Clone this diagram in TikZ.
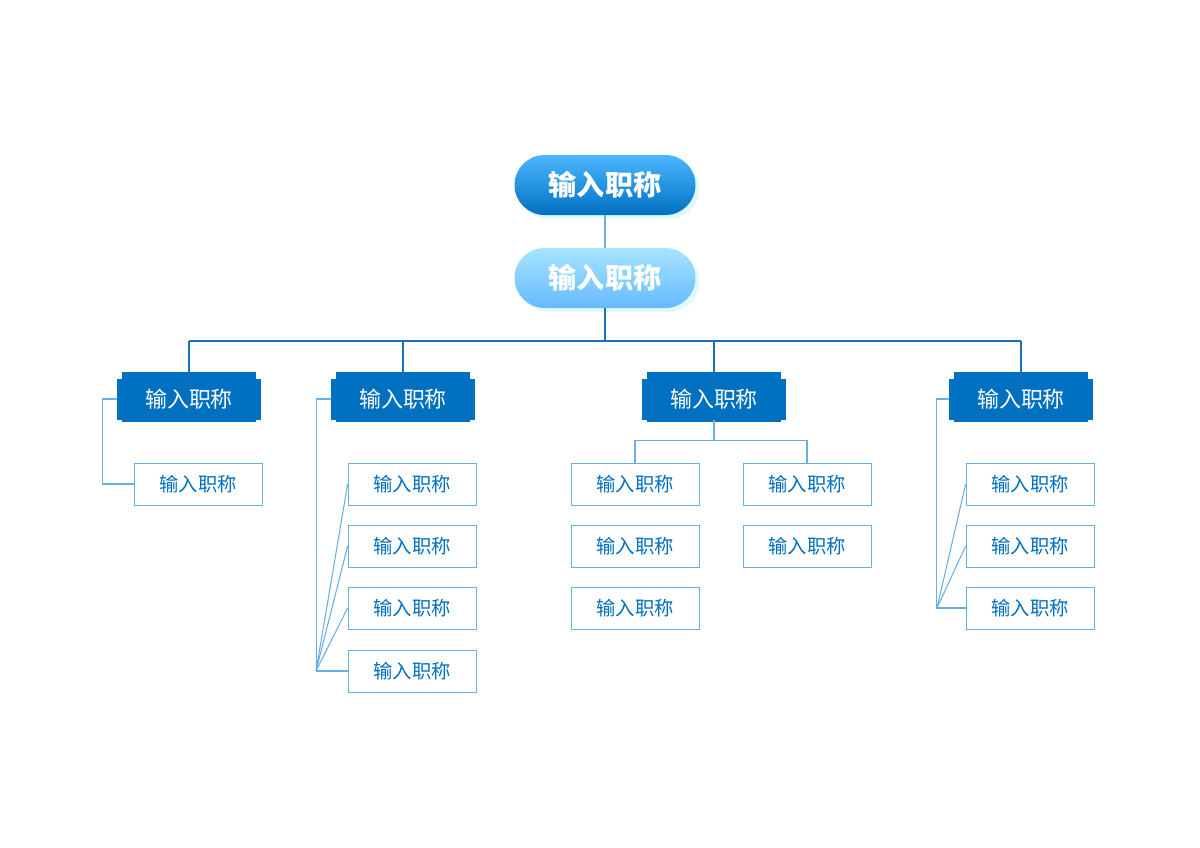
\documentclass[tikz,border=0pt]{standalone}
\usepackage{fontspec}
\setmainfont{Noto Sans CJK SC}
\usetikzlibrary{shadows}
\definecolor{deptblue}{HTML}{0070C0}
\definecolor{leafline}{HTML}{6AAEE6}
\definecolor{lineblue}{HTML}{1A72BD}
\tikzset{
  pill/.style={rounded corners=30*0.02cm,minimum width=181*0.02cm,minimum height=60*0.02cm,
    text=white,font=\fontsize{16}{18}\selectfont\bfseries,
    drop shadow={shadow xshift=4*0.02cm,shadow yshift=-4*0.02cm,fill=blue!20!cyan!20,opacity=0.6}},
  dept/.style={fill=deptblue,minimum width=144*0.02cm,minimum height=41*0.02cm,
    text=white,font=\fontsize{12.5}{14}\selectfont},
  leaf/.style={draw=leafline,fill=white,minimum width=128*0.02cm,minimum height=42*0.02cm,
    text=deptblue,font=\fontsize{11}{13}\selectfont},
  bus/.style={draw=lineblue,line width=0.8pt},
  thin/.style={draw=leafline,line width=0.6pt}
}
\begin{document}
\begin{tikzpicture}[x=0.02cm,y=-0.02cm]
\useasboundingbox (0,0) rectangle (1200,848);
% top
\node[pill,top color=cyan!60!blue!70,bottom color=deptblue] (ceo) at (605,185) {输入职称};
\node[pill,top color=blue!30!cyan!35,bottom color=blue!45!cyan!60] (vice) at (605,278) {输入职称};
\draw[thin] (ceo) -- (vice);
% departments
\foreach \n/\x in {d1/189,d2/403,d3/714,d4/1021}{
  \fill[deptblue] (\x-67,372) rectangle (\x+67,422);
  \node[dept] (\n) at (\x,399) {输入职称};
}
\coordinate (busl) at (189,341);
\coordinate (busr) at (1021,341);
\draw[bus] (vice.south) -- (605,341);
\draw[bus] (busl) -- (busr);
\foreach \n in {d1,d2,d3,d4}
  \draw[bus] (\n.north |- busl) -- (\n.north);
% leaves
\node[leaf] (a1) at (198,484) {输入职称};
\foreach \i/\y in {1/484,2/546,3/608,4/671}
  \node[leaf] (b\i) at (412,\y) {输入职称};
\foreach \i/\y in {1/484,2/546,3/608}
  \node[leaf] (c\i) at (635,\y) {输入职称};
\foreach \i/\y in {1/484,2/546}
  \node[leaf] (e\i) at (807,\y) {输入职称};
\foreach \i/\y in {1/484,2/546,3/608}
  \node[leaf] (f\i) at (1030,\y) {输入职称};
% connectors
\draw[thin] (d1.west) -- ++(-14,0) |- (a1.west);
\draw[thin] (d2.west) -- ++(-14,0) |- (b4.west);
\foreach \i in {1,2,3} \draw[thin] (b\i.west) -- (b4.west -| 316,0);
\draw[thin] (d4.west) -- ++(-12,0) |- (f3.west);
\foreach \i in {1,2} \draw[thin] (f\i.west) -- (f3.west -| 937,0);
\draw[thin] (d3.south) -- ++(0,21) coordinate (cbus);
\draw[thin] (c1.north) |- (cbus) -| (e1.north);
\end{tikzpicture}
\end{document}
